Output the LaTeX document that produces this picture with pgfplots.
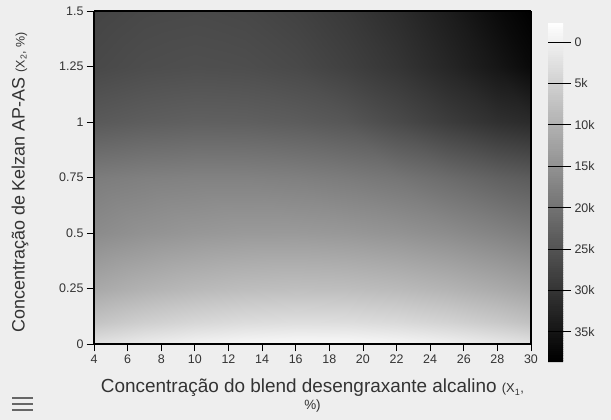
\documentclass[border=0pt]{standalone}
\usepackage{fontspec}
\setmainfont{Liberation Sans}
\usepackage{pgfplots}
\pgfplotsset{compat=1.18}
\usetikzlibrary{calc}
\definecolor{bg}{RGB}{238,238,238}
\definecolor{txt}{RGB}{51,51,51}
\definecolor{ham}{RGB}{102,102,102}
\begin{document}
\begin{tikzpicture}
\fill[bg] (0,0) rectangle (611bp,420bp);
\useasboundingbox (0,0) rectangle (611bp,420bp);
\foreach \yy in {22,16,10} {\draw[ham, line width=2.6bp] (12bp,\yy bp) -- (33bp,\yy bp);}
\begin{axis}[
  at={(94bp,76bp)}, anchor=south west,
  scale only axis, width=437bp, height=333bp,
  view={0}{90},
  xmin=4, xmax=30, ymin=0, ymax=1.5,
  xtick={4,6,...,30},
  ytick={0,0.25,0.5,0.75,1,1.25,1.5},
  yticklabels={0,0.25,0.5,0.75,1,1.25,1.5},
  tick align=outside, tick pos=left,
  major tick length=7bp,
  tick style={black, line width=0.8bp},
  axis line style={black, line width=1.2bp},
  axis on top,
  ticklabel style={font=\fontsize{12.5}{14}\selectfont, text=txt},
  /pgf/number format/assume math mode=true,
  xlabel={Concentração do blend desengraxante alcalino {\fontsize{13}{13}\selectfont (X\textsubscript{1},}\\{\fontsize{13.5}{15}\selectfont\%)}},
  xlabel style={align=center, font=\fontsize{19}{17}\selectfont, text=txt,
    at={(axis description cs:0.5,-0.156)}, anchor=center},
  ylabel={Concentração de Kelzan AP-AS {\fontsize{12.5}{13}\selectfont (X\textsubscript{2}, \%)}},
  ylabel style={font=\fontsize{18}{20}\selectfont, text=txt,
    at={(axis description cs:-0.169,0.485)}, anchor=center},
  colormap={bw}{gray(0cm)=(1); gray(1cm)=(0)},
  point meta min=-2300, point meta max=38650,
  colorbar sampled,
  colorbar style={
    name=cb,
    samples=160,
    at={(parent axis.north east)}, anchor=north west, xshift=8.5bp, yshift=-12bp,
    scale only axis, width=15bp, height=339bp,
    y dir=reverse,
    scaled y ticks=false,
    ytick={0,5000,10000,15000,20000,25000,30000,35000},
    yticklabels={0,5k,10k,15k,20k,25k,30k,35k},
    axis line style={draw=none},
    ytick pos=right, yticklabel pos=right,
    major tick length=8bp, tick align=outside,
    tick style={black, line width=0.9bp},
    yticklabel style={font=\fontsize{12.5}{14}\selectfont, text=txt},
  },
]
\addplot3[surf, shader=interp] table {
x y z
4 0 2500
7 0 870
10 0 -340
13 0 -1120
16 0 -1480
19 0 -1400
22 0 -910
25 0 20
28 0 1360
30 0 2500

4 0.1 7300
7 0.1 5500
10 0.1 4200
13 0.1 3370
16 0.1 3020
19 0.1 3140
22 0.1 3750
25 0.1 4830
28 0.1 6390
30 0.1 7700

4 0.25 11600
7 0.25 10060
10 0.25 8940
13 0.25 8260
16 0.25 8000
19 0.25 8160
22 0.25 8740
25 0.25 9770
28 0.25 11200
30 0.25 12400

4 0.5 16300
7 0.5 15150
10 0.5 14370
13 0.5 13960
16 0.5 13930
19 0.5 14260
22 0.5 14980
25 0.5 16070
28 0.5 17530
30 0.5 18700

4 0.75 18700
7 0.75 18080
10 0.75 17770
13 0.75 17790
16 0.75 18120
19 0.75 18770
22 0.75 19740
25 0.75 21300
28 0.75 23000
30 0.75 23900

4 1.0 24300
7 1.0 23600
10 1.0 23200
13 1.0 23300
16 1.0 23800
19 1.0 24700
22 1.0 26700
25 1.0 28900
28 1.0 30900
30 1.0 31800

4 1.25 27000
7 1.25 26300
10 1.25 26000
13 1.25 26200
16 1.25 26900
19 1.25 28300
22 1.25 30100
25 1.25 32500
28 1.25 35100
30 1.25 37100

4 1.5 27700
7 1.5 27100
10 1.5 26900
13 1.5 27200
16 1.5 28100
19 1.5 29500
22 1.5 31500
25 1.5 34000
28 1.5 37000
30 1.5 38600
};
\end{axis}
\foreach \f in {0.05617,0.17827,0.30037,0.42247,0.54457,0.66667,0.78877,0.91087} {
  \draw[black, line width=0.9bp] ($(cb.north west)!\f!(cb.south west)$) -- ($(cb.north east)!\f!(cb.south east)$);
}
\end{tikzpicture}
\end{document}
